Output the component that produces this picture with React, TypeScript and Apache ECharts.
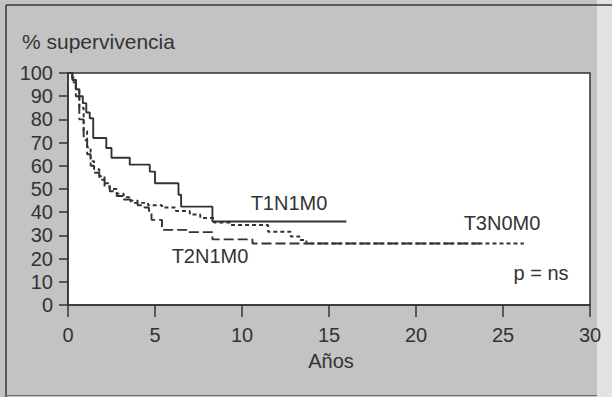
import React, { useEffect, useRef } from "react";
import * as echarts from "echarts";

// Kaplan-Meier curves: times (years) at which survival changes, and survival (%)
const t1Times = [0, 0.25, 0.45, 0.65, 0.85, 1.05, 1.25, 1.45, 2.2, 2.5, 3.55, 4.7, 5.0, 6.35, 6.5, 8.3, 16.0];
const t1Surv = [100, 97, 93, 90, 87, 83, 80.5, 72, 67.7, 63.5, 60.5, 57.5, 52.5, 47.5, 42.4, 36, 36];

const t2Times = [0, 0.25, 0.45, 0.65, 0.9, 1.1, 1.3, 1.5, 1.8, 2.1, 2.4, 2.8, 3.2, 3.6, 4.0, 4.4, 4.65, 4.8, 5.4, 6.8, 8.3, 10.6, 23.7];
const t2Surv = [100, 96, 90, 80, 71, 65, 60, 57, 54, 51, 49, 47, 45.5, 44, 43, 42, 40.5, 36.7, 32.4, 31.4, 28.3, 26.5, 26.5];

const t3Times = [0, 0.25, 0.45, 0.65, 0.9, 1.1, 1.3, 1.5, 1.8, 2.1, 2.4, 2.8, 3.2, 3.6, 4.0, 4.6, 5.4, 6.2, 7.0, 7.6, 8.4, 9.3, 11.5, 12.8, 13.3, 13.7, 26.2];
const t3Surv = [100, 98, 93, 85, 75, 68, 62, 58.5, 55.5, 52.5, 50, 48, 46.5, 45, 44, 43, 42, 40.5, 39, 37.5, 35.5, 34.5, 31.6, 29.5, 28, 26.5, 26.5];

const xTicks = [0, 5, 10, 15, 20, 25, 30];
const yTicks = [0, 10, 20, 30, 40, 50, 60, 70, 80, 90, 100];

const seriesNames = ["T1N1M0", "T2N1M0", "T3N0M0"];
const yTitle = "% supervivencia";
const xTitle = "Años";
const pText = "p = ns";

function toSteps(times: number[], surv: number[]): number[][] {
  const pts: number[][] = [];
  for (let i = 0; i < times.length; i++) {
    if (i > 0) pts.push([times[i], surv[i - 1]]);
    pts.push([times[i], surv[i]]);
  }
  return pts;
}

const FONT = "'Liberation Sans', Arial, Helvetica, sans-serif";
const INK = "#333333";

export default function App() {
  const ref = useRef<HTMLDivElement>(null);
  useEffect(() => {
    if (!ref.current) return;
    const chart = echarts.init(ref.current, undefined, { renderer: "svg" });
    const lineCommon = {
      type: "line" as const,
      showSymbol: false,
      symbol: "none",
      silent: true,
      z: 3,
    };
    chart.setOption({
      animation: false,
      backgroundColor: "transparent",
      grid: {
        left: 68,
        top: 73,
        right: 22,
        bottom: 92,
        show: true,
        backgroundColor: "#ffffff",
        borderColor: INK,
        borderWidth: 1.5,
      },
      xAxis: {
        type: "value",
        min: xTicks[0],
        max: xTicks[xTicks.length - 1],
        interval: 5,
        axisLine: { show: true, onZero: false, lineStyle: { color: INK, width: 1.5 } },
        axisTick: { show: true, length: 12, lineStyle: { color: INK, width: 1.5 } },
        axisLabel: { color: INK, fontSize: 20, fontFamily: FONT, margin: 20 },
        splitLine: { show: false },
      },
      yAxis: {
        type: "value",
        min: yTicks[0],
        max: yTicks[yTicks.length - 1],
        interval: 10,
        axisLine: { show: true, onZero: false, lineStyle: { color: INK, width: 1.5 } },
        axisTick: { show: true, length: 9, lineStyle: { color: INK, width: 1.5 } },
        axisLabel: { color: INK, fontSize: 20, fontFamily: FONT, margin: 15 },
        splitLine: { show: false },
      },
      series: [
        {
          ...lineCommon,
          name: seriesNames[0],
          data: toSteps(t1Times, t1Surv),
          lineStyle: { color: INK, width: 1.9, type: "solid" },
        },
        {
          ...lineCommon,
          name: seriesNames[1],
          data: toSteps(t2Times, t2Surv),
          lineStyle: { color: INK, width: 1.9, type: [10, 4] },
        },
        {
          ...lineCommon,
          name: seriesNames[2],
          data: toSteps(t3Times, t3Surv),
          lineStyle: { color: INK, width: 1.9, type: [4, 3] },
        },
      ],
      graphic: [
        { type: "rect", z: -10, shape: { x: 597, y: 0, width: 15, height: 397 }, style: { fill: "#e2e2e2" } },
        { type: "line", z: 1, shape: { x1: 6, y1: 5, x2: 612, y2: 5 }, style: { stroke: "#3a3a3a", lineWidth: 1.5 } },
        { type: "line", z: 1, shape: { x1: 6, y1: 5, x2: 6, y2: 397 }, style: { stroke: "#3a3a3a", lineWidth: 1.5 } },
        { type: "line", z: 1, shape: { x1: 6, y1: 395.5, x2: 597, y2: 395.5 }, style: { stroke: "#6a6a6a", lineWidth: 1 } },
        { type: "text", z: 10, x: 22, y: 41, style: { text: yTitle, fill: INK, fontSize: 21, fontFamily: FONT, verticalAlign: "middle", align: "left" } },
        { type: "text", z: 10, x: 331, y: 361, style: { text: xTitle, fill: INK, fontSize: 20, fontFamily: FONT, verticalAlign: "middle", align: "center" } },
        { type: "text", z: 10, x: 289, y: 203, style: { text: seriesNames[0], fill: INK, fontSize: 20, fontFamily: FONT, verticalAlign: "middle", align: "center" } },
        { type: "text", z: 10, x: 210, y: 256, style: { text: seriesNames[1], fill: INK, fontSize: 20, fontFamily: FONT, verticalAlign: "middle", align: "center" } },
        { type: "text", z: 10, x: 502, y: 223, style: { text: seriesNames[2], fill: INK, fontSize: 20, fontFamily: FONT, verticalAlign: "middle", align: "center" } },
        { type: "text", z: 10, x: 541, y: 273, style: { text: pText, fill: INK, fontSize: 20, fontFamily: FONT, verticalAlign: "middle", align: "center" } },
      ],
    });
    return () => chart.dispose();
  }, []);
  return (
    <div
      ref={ref}
      style={{ position: "fixed", left: 0, top: 0, width: 612, height: 397, background: "#c3c3c3" }}
    />
  );
}
